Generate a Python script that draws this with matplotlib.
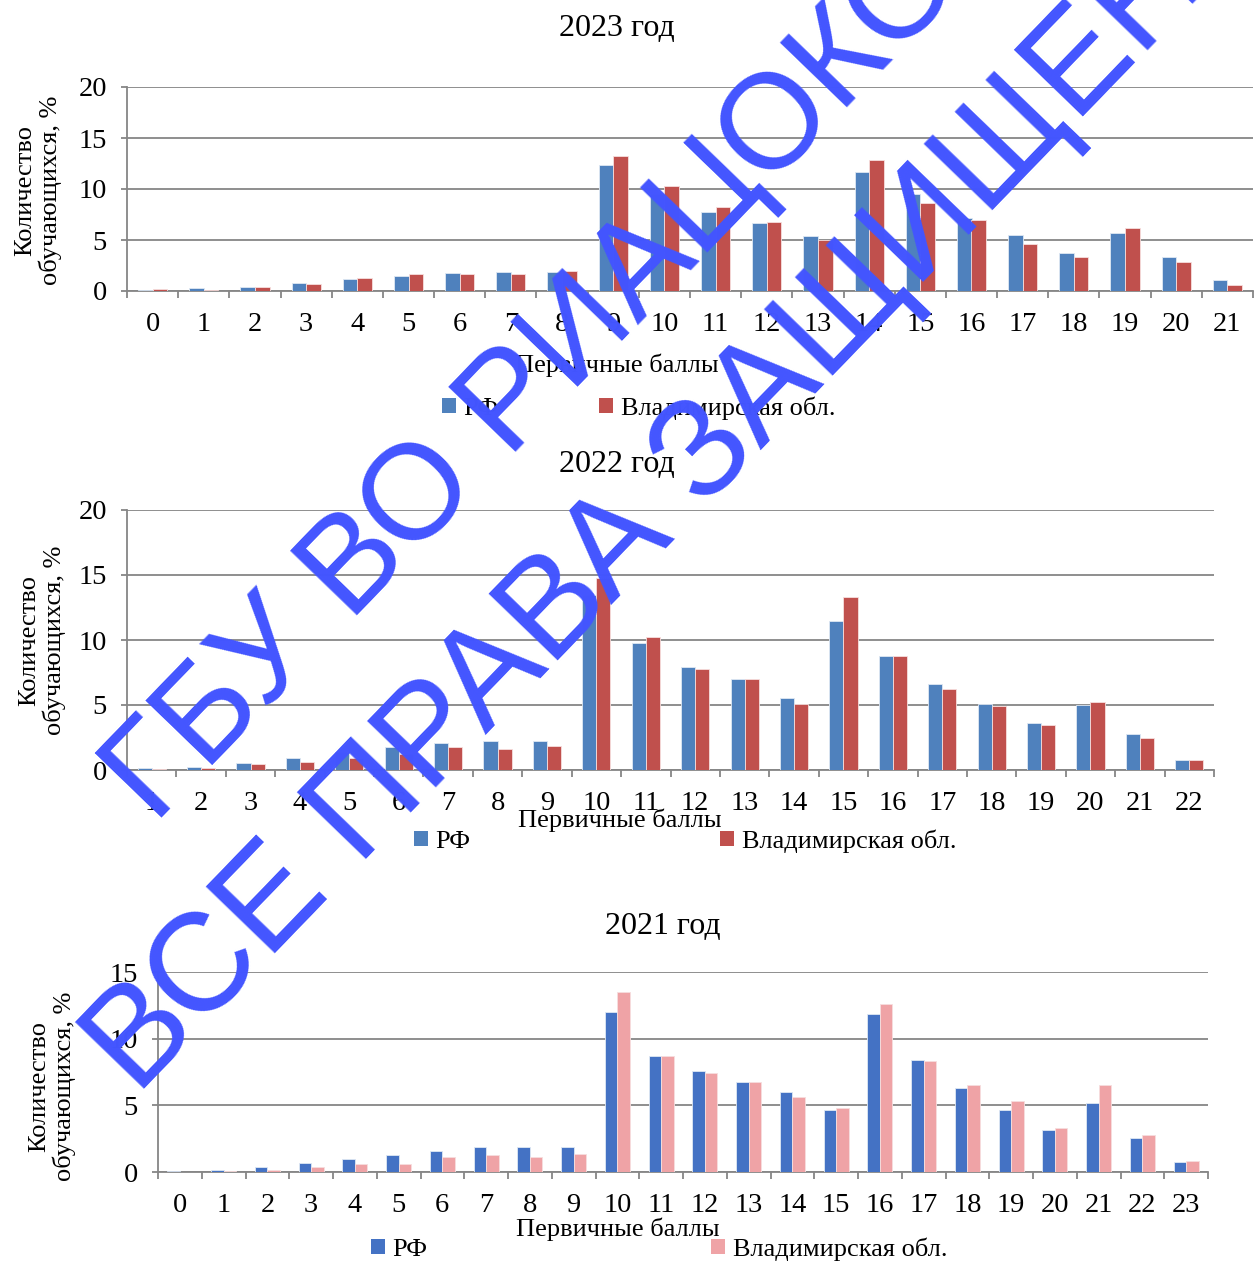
import matplotlib
matplotlib.use("Agg")
import matplotlib.pyplot as plt
from matplotlib.patches import Patch

# ---------------- data ----------------
cats_2023 = list(range(0, 22))
rf_2023 = [0.05, 0.25, 0.42, 0.78, 1.14, 1.44, 1.76, 1.86, 1.86, 12.35, 9.54,
           7.75, 6.63, 5.36, 11.63, 9.48, 7.16, 5.46, 3.76, 5.72, 3.37, 1.05]
vlad_2023 = [0.15, 0.13, 0.42, 0.69, 1.27, 1.67, 1.67, 1.67, 1.96, 13.2, 10.26,
             8.24, 6.73, 5.03, 12.84, 8.6, 6.96, 4.64, 3.37, 6.14, 2.84, 0.56]

cats_2022 = list(range(1, 23))
rf_2022 = [0.15, 0.23, 0.54, 0.95, 1.36, 1.74, 2.05, 2.26, 2.26, 13.46, 9.74,
           7.95, 6.97, 5.54, 11.46, 8.77, 6.64, 5.05, 3.59, 4.97, 2.74, 0.74]
vlad_2022 = [0.08, 0.15, 0.46, 0.59, 0.9, 1.23, 1.74, 1.64, 1.85, 14.77, 10.26,
             7.74, 6.97, 5.08, 13.28, 8.77, 6.23, 4.95, 3.46, 5.26, 2.44, 0.74]

cats_2021 = list(range(0, 24))
rf_2021 = [0.08, 0.15, 0.35, 0.68, 0.95, 1.25, 1.58, 1.85, 1.85, 1.85, 12.0, 8.7,
           7.6, 6.78, 6.0, 4.65, 11.83, 8.4, 6.3, 4.65, 3.18, 5.18, 2.55, 0.75]
vlad_2021 = [0.0, 0.08, 0.15, 0.35, 0.58, 0.58, 1.15, 1.28, 1.15, 1.35, 13.53, 8.7,
             7.4, 6.78, 5.6, 4.8, 12.63, 8.3, 6.5, 5.3, 3.28, 6.5, 2.78, 0.85]

series_names = ["РФ", "Владимирская обл."]
titles = ["2023 год", "2022 год", "2021 год"]
ylabel = "Количество\nобучающихся, %"
xlabel = "Первичные баллы"
watermark1 = "ГБУ ВО РИАЦОКО"
watermark2 = "ВСЕ ПРАВА ЗАЩИЩЕНЫ"

# ---------------- style ----------------
plt.rcParams['font.family'] = ['Liberation Serif', 'DejaVu Serif']
W, H = 1254, 1262
fig = plt.figure(figsize=(W / 100, H / 100), dpi=100)
GRID = '#868686'
FS = 19
TFS = 20.5


def px_axes(l, t, r, b):
    return fig.add_axes([l / W, 1 - b / H, (r - l) / W, (b - t) / H])


def fpos(x, y):
    return x / W, 1 - y / H


def draw(ax, cats, a, b, colors, ymax, yticks):
    w = 0.285
    xs = list(range(len(cats)))
    ax.bar([x - w / 2 for x in xs], a, width=w, color=colors[0],
           edgecolor='#dfe8f3', linewidth=0.6, zorder=3)
    ax.bar([x + w / 2 for x in xs], b, width=w, color=colors[1],
           edgecolor='#f6dede', linewidth=0.6, zorder=3)
    ax.set_xlim(-0.5, len(cats) - 0.5)
    ax.set_ylim(0, ymax)
    ax.set_yticks(yticks)
    ax.set_xticks(xs)
    ax.set_xticklabels([str(c) for c in cats], fontsize=TFS)
    ax.set_xticks([x - 0.5 for x in range(len(cats) + 1)], minor=True)
    ax.tick_params(axis='x', which='major', length=0, pad=15)
    ax.tick_params(axis='x', which='minor', length=5, width=1.3, color=GRID,
                   direction='out')
    ax.tick_params(axis='y', length=4.5, width=1.3, color=GRID, pad=10,
                   labelsize=TFS)
    for s in ['top', 'right']:
        ax.spines[s].set_visible(False)
    for s in ['left', 'bottom']:
        ax.spines[s].set_color(GRID)
        ax.spines[s].set_linewidth(1.3)
    ax.grid(axis='y', color=GRID, linewidth=1.3, zorder=0)
    ax.set_axisbelow(True)


c1 = ['#4F81BD', '#C0504D']
c3 = ['#4472C4', '#EFA3A6']

ax1 = px_axes(127, 87, 1253, 291)
draw(ax1, cats_2023, rf_2023, vlad_2023, c1, 20, [0, 5, 10, 15, 20])
ax2 = px_axes(127, 510, 1214, 770)
draw(ax2, cats_2022, rf_2022, vlad_2022, c1, 20, [0, 5, 10, 15, 20])
ax3 = px_axes(158, 972, 1208, 1172)
draw(ax3, cats_2021, rf_2021, vlad_2021, c3, 15, [0, 5, 10, 15])

# titles
for (x, y), t in zip([(617, 29), (617, 464), (663, 927)], titles):
    fig.text(*fpos(x, y), t, ha='center', va='center', fontsize=23)

# y labels
for (x, y) in [(38, 190), (42, 640), (52, 1086)]:
    fig.text(*fpos(x, y), ylabel, rotation=90, ha='center', va='center',
             multialignment='center', fontsize=FS, linespacing=1.15)

# x labels
for (x, y) in [(617, 365), (620, 820), (618, 1229)]:
    fig.text(*fpos(x, y), xlabel, ha='center', va='center', fontsize=FS)

# legends
for (x, y), cols, sp in [((442, 408), c1, 3.8), ((414, 841), c1, 9.45),
                         ((371, 1249), c3, 10.75)]:
    handles = [Patch(facecolor=cols[0]), Patch(facecolor=cols[1])]
    fig.legend(handles, series_names, loc='center left',
               bbox_to_anchor=fpos(x, y), ncol=2, frameon=False, fontsize=FS,
               handlelength=0.52, handleheight=0.52, handletextpad=0.3,
               columnspacing=sp, borderpad=0, borderaxespad=0)

# watermark
WM = '#4355FF'
fig.text(*fpos(535, 380), watermark1, rotation=46, ha='center', va='center',
         rotation_mode='anchor', fontsize=97, color=WM,
         family=['Liberation Sans', 'DejaVu Sans'], zorder=10)
fig.text(*fpos(690, 472), watermark2, rotation=46, ha='center', va='center',
         rotation_mode='anchor', fontsize=100, color=WM,
         family=['Liberation Sans', 'DejaVu Sans'], zorder=10)

fig.savefig('out.png', dpi=100)
